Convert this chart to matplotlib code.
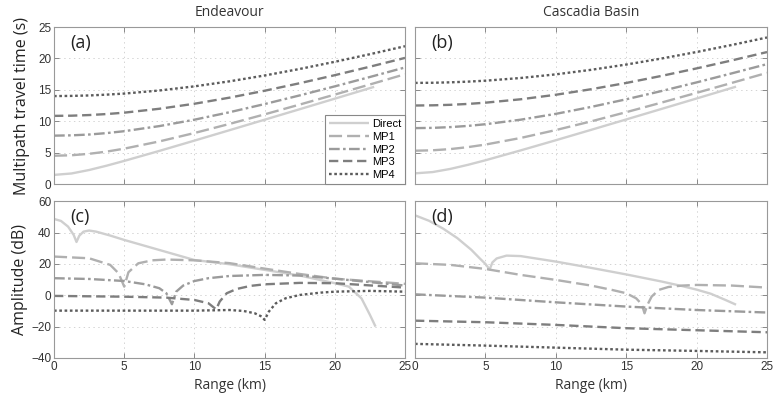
import matplotlib
matplotlib.use("Agg")
import matplotlib.pyplot as plt
import numpy as np

# ---- data ----
labels = ["Direct", "MP1", "MP2", "MP3", "MP4"]

# travel time (s) vs range (km)
r_tt = [0, 1.25, 2.5, 3.75, 5, 7.5, 10, 12.5, 15, 17.5, 20, 22.5, 25]
r_tt_direct = [0, 1.25, 2.5, 3.75, 5, 7.5, 10, 12.5, 15, 17.5, 20, 22.5, 22.8]

tt_end = {
    "Direct": [1.45, 1.68, 2.23, 2.92, 3.68, 5.27, 6.91, 8.57, 10.24, 11.91, 13.59, 15.27, 15.47],
    "MP1": [4.50, 4.58, 4.81, 5.16, 5.63, 6.78, 8.12, 9.57, 11.09, 12.65, 14.24, 15.85, 17.48],
    "MP2": [7.70, 7.75, 7.88, 8.11, 8.41, 9.22, 10.24, 11.43, 12.73, 14.11, 15.55, 17.04, 18.56],
    "MP3": [10.85, 10.88, 10.98, 11.14, 11.36, 11.98, 12.78, 13.75, 14.85, 16.05, 17.33, 18.68, 20.08],
    "MP4": [14.00, 14.03, 14.10, 14.23, 14.40, 14.89, 15.55, 16.35, 17.28, 18.32, 19.46, 20.67, 21.94],
}
tt_cas = {
    "Direct": [1.70, 1.90, 2.40, 3.05, 3.78, 5.35, 6.97, 8.62, 10.28, 11.95, 13.62, 15.30, 15.50],
    "MP1": [5.30, 5.37, 5.56, 5.87, 6.28, 7.33, 8.59, 9.97, 11.44, 12.96, 14.52, 16.10, 17.70],
    "MP2": [8.90, 8.94, 9.06, 9.25, 9.52, 10.24, 11.17, 12.27, 13.49, 14.80, 16.18, 17.62, 19.09],
    "MP3": [12.50, 12.53, 12.61, 12.75, 12.95, 13.49, 14.21, 15.09, 16.09, 17.21, 18.41, 19.68, 21.01],
    "MP4": [16.10, 16.12, 16.19, 16.30, 16.45, 16.88, 17.46, 18.18, 19.02, 19.98, 21.02, 22.14, 23.33],
}

# amplitude (dB) vs range (km), Endeavour
amp_end_r = {
    "Direct": [0, 0.5, 1.0, 1.4, 1.6, 1.8, 2.1, 2.5, 3, 4, 5, 7.5, 10, 12.5, 15, 17.5, 20, 21, 21.9, 22.5, 22.9],
    "MP1": [0, 2.5, 4, 4.6, 5.0, 5.3, 6, 7, 8, 10, 12.5, 15, 17.5, 20, 25],
    "MP2": [0, 2.5, 5, 6.5, 7.5, 8.0, 8.4, 8.7, 9.2, 10, 11, 12.5, 15, 17.5, 20, 25],
    "MP3": [0, 5, 8, 10, 11, 11.55, 11.8, 12.3, 13, 14, 15, 17.5, 20, 25],
    "MP4": [0, 5, 10, 12.5, 13.5, 14.3, 14.8, 15.0, 15.3, 15.8, 16.5, 17.5, 19, 20, 22.5, 25],
}
amp_end = {
    "Direct": [48.7, 47.4, 43.8, 38.5, 34.0, 38.0, 40.6, 41.3, 40.6, 38.1, 35.3, 28.9, 22.5, 19.8, 16.2, 12.6, 7.7, 5.5, -2, -12.5, -20],
    "MP1": [24.7, 23.6, 19.4, 14.0, 5.5, 14.7, 20.4, 22.3, 22.8, 22.3, 20.5, 17.0, 13.6, 10.6, 7.3],
    "MP2": [10.9, 10.4, 9.1, 7.0, 4.5, 1.3, -5.7, 2.3, 6.2, 9.1, 10.9, 12.3, 13.0, 12.6, 10.6, 6.2],
    "MP3": [-0.4, -0.9, -1.5, -3.0, -5.1, -9.0, -4.0, 1.3, 4.0, 6.0, 7.0, 7.9, 7.7, 4.9],
    "MP4": [-9.8, -9.8, -9.8, -9.4, -10.0, -11.5, -13.6, -15.7, -10.4, -5.1, -1.9, 0.2, 1.7, 2.3, 2.8, 2.3],
}

# amplitude (dB) vs range (km), Cascadia Basin
amp_cas_r = {
    "Direct": [0, 1, 2, 3, 4, 4.6, 5.0, 5.3, 5.5, 5.8, 6.5, 7.5, 10, 12.5, 15, 17.5, 19, 20, 21, 22, 22.8],
    "MP1": [0, 2.5, 5, 7.5, 10, 12.5, 14, 15, 15.7, 16.1, 16.3, 16.5, 16.8, 17.3, 18, 19, 20, 22.5, 25],
    "MP2": [0, 5, 10, 15, 20, 25],
    "MP3": [0, 5, 10, 15, 20, 25],
    "MP4": [0, 5, 10, 15, 20, 25],
}
amp_cas = {
    "Direct": [51.0, 47.5, 42.5, 36.5, 29.0, 23.5, 20.0, 16.5, 21.0, 23.5, 25.3, 25.0, 21.5, 17.5, 13.3, 8.8, 5.8, 3.6, 1.0, -2.8, -6.0],
    "MP1": [20.4, 19.4, 16.8, 13.0, 9.8, 6.2, 3.4, 1.3, -1.9, -5.7, -11.5, -6.2, -0.9, 3.4, 5.3, 6.2, 6.6, 6.2, 4.9],
    "MP2": [0.6, -1.5, -4.5, -7.2, -9.4, -11.0],
    "MP3": [-16.2, -17.2, -18.9, -21.0, -22.3, -23.6],
    "MP4": [-31.0, -32.1, -33.4, -34.7, -35.5, -36.4],
}

# ---- styling ----
plt.rcParams['font.family'] = ['Liberation Sans', 'DejaVu Sans']
plt.rcParams['lines.scale_dashes'] = False

colors = {"Direct": "#cfcfcf", "MP1": "#b0b0b0", "MP2": "#9b9b9b", "MP3": "#7e7e7e", "MP4": "#5c5c5c"}
dashes = {"Direct": None, "MP1": (9.4, 3.6), "MP2": (7.7, 2.4, 1.9, 2.4), "MP3": (6.7, 3.4), "MP4": (1.9, 1.9)}
LW = 1.7
label_font = 'Open Sans'

fig = plt.figure(figsize=(7.74, 4.03), dpi=100)
ax_a = fig.add_axes([0.0698, 0.5434, 0.4535, 0.3896])
ax_b = fig.add_axes([0.5362, 0.5434, 0.4548, 0.3896])
ax_c = fig.add_axes([0.0698, 0.1117, 0.4535, 0.3890])
ax_d = fig.add_axes([0.5362, 0.1117, 0.4548, 0.3890])


def draw(ax, xs, ys):
    for name in labels:
        line, = ax.plot(xs[name], ys[name], color=colors[name], lw=LW, label=name,
                        solid_capstyle='butt', dash_capstyle='butt')
        if dashes[name] is not None:
            line.set_dashes(dashes[name])


def style(ax, ylim, yticks, show_y, show_x, tag):
    ax.set_xlim(0, 25)
    ax.set_ylim(*ylim)
    ax.set_xticks([0, 5, 10, 15, 20, 25])
    ax.set_yticks(yticks)
    ax.grid(True, linestyle=(0, (1, 2.5)), color='#cccccc', linewidth=0.6)
    ax.tick_params(direction='in', top=True, right=True, length=3.5, width=0.7,
                   color='#888888', labelsize=8.5, labelcolor='#333333', pad=2)
    for sp in ax.spines.values():
        sp.set_color('#999999')
        sp.set_linewidth(0.8)
    if not show_y:
        ax.set_yticklabels([])
    if not show_x:
        ax.set_xticklabels([])
    ax.text(0.045, 0.955, tag, transform=ax.transAxes, ha='left', va='top',
            fontsize=13, family=label_font, color='#222222')


xs_a = {n: (r_tt_direct if n == "Direct" else r_tt) for n in labels}
draw(ax_a, xs_a, tt_end)
draw(ax_b, xs_a, tt_cas)
draw(ax_c, amp_end_r, amp_end)
draw(ax_d, amp_cas_r, amp_cas)

style(ax_a, (0, 25), [0, 5, 10, 15, 20, 25], True, False, '(a)')
style(ax_b, (0, 25), [0, 5, 10, 15, 20, 25], False, False, '(b)')
style(ax_c, (-40, 60), [-40, -20, 0, 20, 40, 60], True, True, '(c)')
style(ax_d, (-40, 60), [-40, -20, 0, 20, 40, 60], False, True, '(d)')

ax_a.set_title('Endeavour', fontsize=10, family=label_font, color='#333333', pad=8)
ax_b.set_title('Cascadia Basin', fontsize=10, family=label_font, color='#333333', pad=8)
ax_a.set_ylabel('Multipath travel time (s)', fontsize=11.5, family=label_font, color='#222222', labelpad=6)
ax_c.set_ylabel('Amplitude (dB)', fontsize=11.5, family=label_font, color='#222222', labelpad=2)
ax_c.set_xlabel('Range (km)', fontsize=10, family=label_font, color='#333333', labelpad=4)
ax_d.set_xlabel('Range (km)', fontsize=10, family=label_font, color='#333333', labelpad=4)

leg = ax_a.legend(loc='lower right', borderaxespad=0, fontsize=8, handlelength=3.6,
                  labelspacing=0.25, handletextpad=0.3, borderpad=0.35,
                  fancybox=False, framealpha=1, edgecolor='#888888')
leg.get_frame().set_linewidth(0.8)

fig.savefig('out.png', dpi=100)
